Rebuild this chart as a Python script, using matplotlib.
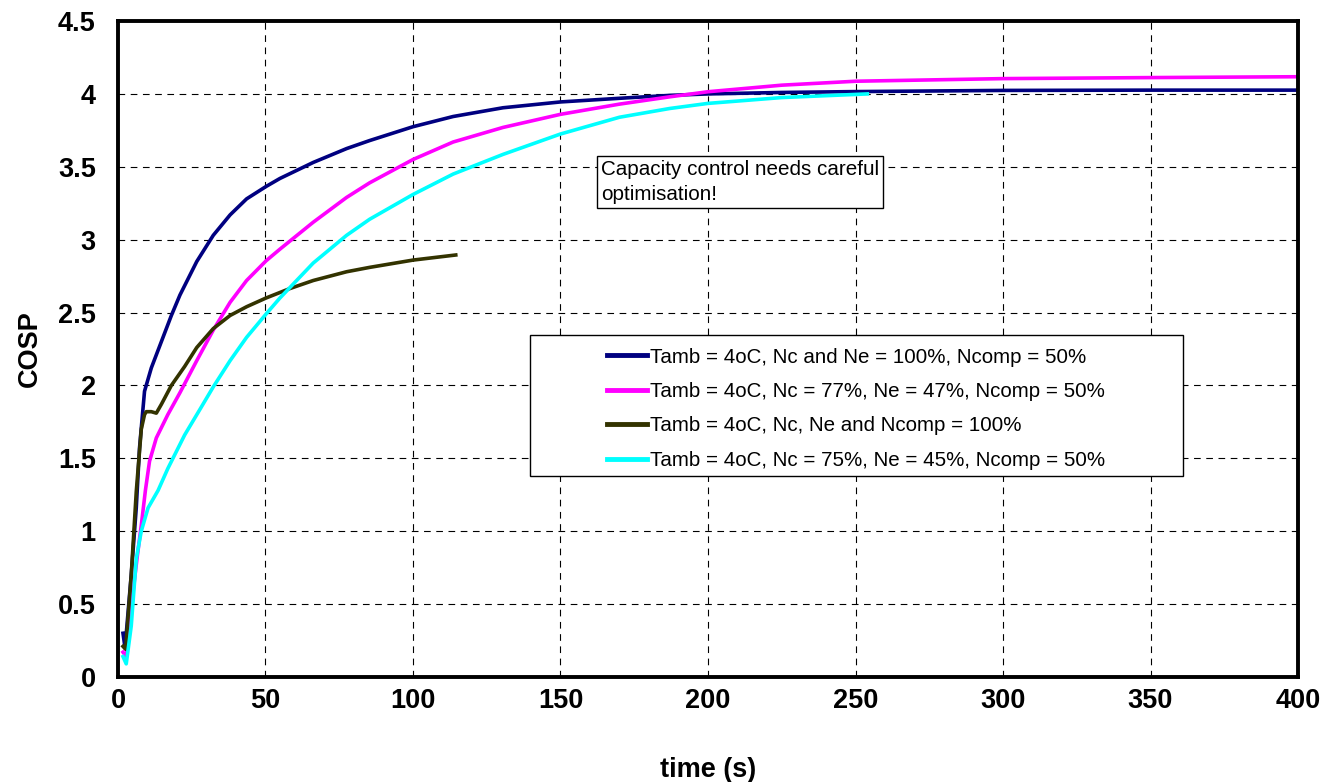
import matplotlib.pyplot as plt
from matplotlib.patches import Rectangle

plt.rcParams['font.family'] = ['Liberation Sans', 'DejaVu Sans']

# series
t_navy = [1.7, 2.4, 4.5, 6.2, 7.3, 9.0, 11.3, 14.7, 18.1, 21, 26.7, 32.3, 38, 43.6, 50.2,
          54.9, 66.2, 77.5, 85.3, 100, 113.6, 130.5, 150, 170, 187, 200, 225, 250, 300, 350, 400]
y_navy = [0.30, 0.20, 0.70, 1.16, 1.57, 1.96, 2.12, 2.30, 2.48, 2.62, 2.85, 3.03, 3.17, 3.28,
          3.365, 3.42, 3.53, 3.625, 3.68, 3.775, 3.845, 3.905, 3.945, 3.97, 3.99, 4.0, 4.01,
          4.016, 4.024, 4.026, 4.026]

t_mag = [1.7, 2.8, 4, 5.1, 6.5, 7.9, 9.3, 10.7, 13, 16.9, 21, 26.7, 32.3, 38, 43.6, 50.2,
         54.9, 66.2, 77.5, 85.3, 100, 113.6, 130.5, 150, 170, 187, 200, 225, 250, 300, 350, 400]
y_mag = [0.17, 0.14, 0.35, 0.58, 0.82, 1.04, 1.28, 1.48, 1.64, 1.80, 1.95, 2.17, 2.38, 2.57,
         2.72, 2.855, 2.935, 3.12, 3.29, 3.39, 3.55, 3.67, 3.77, 3.86, 3.93, 3.98, 4.015,
         4.06, 4.087, 4.105, 4.112, 4.118]

t_olive = [1.7, 2.6, 4.5, 6.2, 7.9, 9.0, 9.6, 11.3, 13, 14.7, 18.1, 22.6, 26.7, 32.3, 38,
           43.6, 50.2, 58.3, 66.2, 77.5, 85.3, 100, 114.5]
y_olive = [0.21, 0.19, 0.70, 1.27, 1.70, 1.80, 1.82, 1.82, 1.81, 1.87, 2.0, 2.13, 2.26, 2.39,
           2.48, 2.54, 2.60, 2.665, 2.72, 2.78, 2.81, 2.86, 2.895]

t_cyan = [1.7, 2.8, 4.5, 6.2, 7.9, 10.2, 13.6, 16.9, 22.6, 28.2, 32.3, 38, 43.6, 50.2, 54.9,
          66.2, 77.5, 85.3, 100, 113.6, 130.5, 150, 170, 187, 200, 225, 254]
y_cyan = [0.14, 0.09, 0.35, 0.81, 1.0, 1.16, 1.28, 1.43, 1.66, 1.85, 1.99, 2.17, 2.33, 2.49,
          2.60, 2.84, 3.03, 3.14, 3.31, 3.45, 3.585, 3.725, 3.84, 3.90, 3.935, 3.975, 4.0]

labels = ['Tamb = 4oC, Nc and Ne = 100%, Ncomp = 50%',
          'Tamb = 4oC, Nc = 77%, Ne = 47%, Ncomp = 50%',
          'Tamb = 4oC, Nc, Ne and Ncomp = 100%',
          'Tamb = 4oC, Nc = 75%, Ne = 45%, Ncomp = 50%']

xticks = [0, 50, 100, 150, 200, 250, 300, 350, 400]
yticks = [0, 0.5, 1, 1.5, 2, 2.5, 3, 3.5, 4, 4.5]
ytick_labels = ['0', '0.5', '1', '1.5', '2', '2.5', '3', '3.5', '4', '4.5']

fig = plt.figure(figsize=(13.24, 7.82), dpi=100)
ax = fig.add_axes([0.0891, 0.1343, 0.8913, 0.8388])

lw = 2.6
ax.plot(t_navy, y_navy, color='#000080', lw=lw, label=labels[0])
ax.plot(t_mag, y_mag, color='#FF00FF', lw=lw, label=labels[1])
ax.plot(t_olive, y_olive, color='#333300', lw=lw, label=labels[2])
ax.plot(t_cyan, y_cyan, color='#00FFFF', lw=lw, label=labels[3])

ax.set_xlim(0, 400)
ax.set_ylim(0, 4.5)
ax.set_xticks(xticks)
ax.set_yticks(yticks)
ax.set_yticklabels(ytick_labels)
ax.tick_params(length=0, labelsize=19.5)
ax.tick_params(axis='x', pad=8)
ax.tick_params(axis='y', pad=16)
for lab in ax.get_xticklabels() + ax.get_yticklabels():
    lab.set_fontweight('bold')
ax.grid(True, color='black', linestyle=(0, (6, 5)), linewidth=0.8)
for s in ax.spines.values():
    s.set_linewidth(2.8)

ax.set_xlabel('time (s)', fontsize=19.5, fontweight='bold', labelpad=31)
ax.set_ylabel('COSP', fontsize=19.5, fontweight='bold', labelpad=11)

ax.text(163.7, 3.545, 'Capacity control needs careful\noptimisation!', fontsize=14.9,
        va='top', ha='left', linespacing=1.4,
        bbox=dict(boxstyle='square,pad=0.2', facecolor='white', edgecolor='black', linewidth=1))

# legend frame drawn separately, entries centred inside it
frame = Rectangle((0.349, 0.3064), 0.5534, 0.215, transform=ax.transAxes,
                  facecolor='white', edgecolor='black', linewidth=1, zorder=4)
ax.add_patch(frame)
leg = ax.legend(loc='center', bbox_to_anchor=(0.6254, 0.409), frameon=False,
                fontsize=14.8, handlelength=1.95, handletextpad=0.12, labelspacing=0.75)
leg.set_zorder(5)
for h in leg.legend_handles:
    h.set_linewidth(3.5)

fig.savefig('out.png', dpi=100)
